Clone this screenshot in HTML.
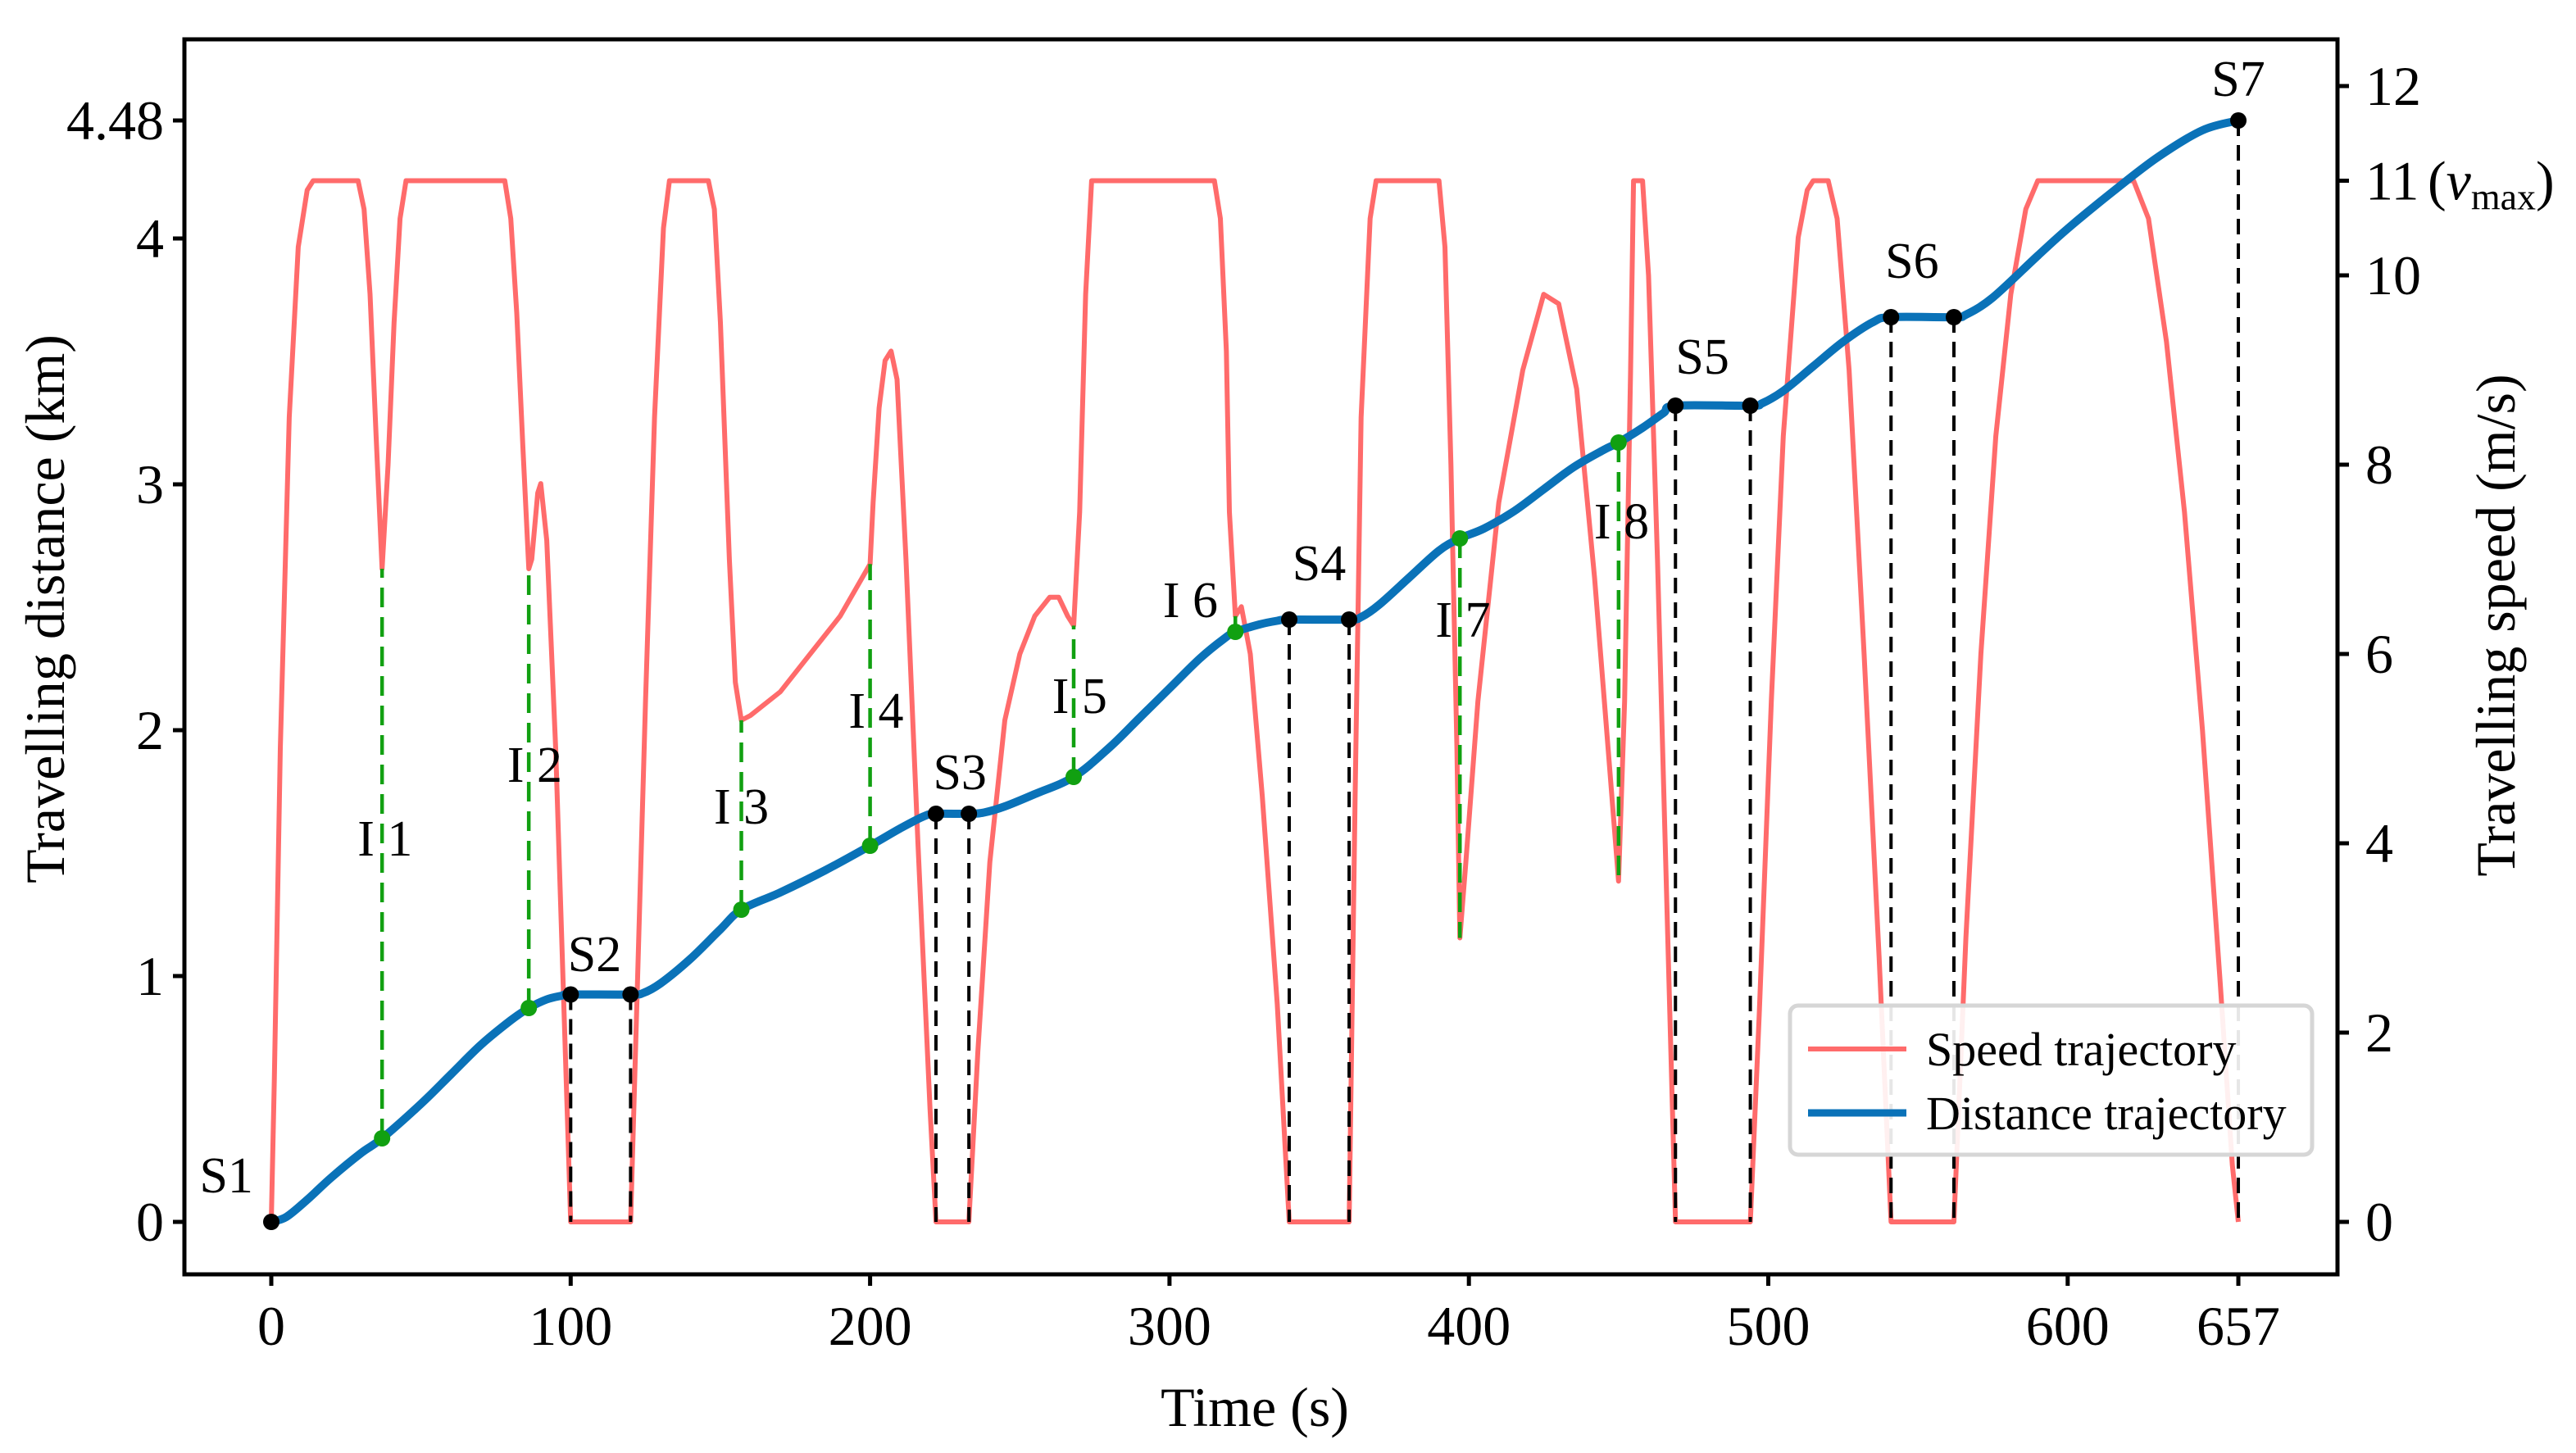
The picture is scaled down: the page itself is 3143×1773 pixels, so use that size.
<!DOCTYPE html>
<html><head><meta charset="utf-8">
<style>
html,body{margin:0;padding:0;background:#fff;}
svg{display:block;}
text{font-family:"Liberation Serif","Times New Roman",serif;fill:#000;}
</style></head>
<body>
<svg id="chart" width="3143" height="1773" viewBox="0 0 3143 1773" xmlns="http://www.w3.org/2000/svg">
<rect x="0" y="0" width="3143" height="1773" fill="#fff"/>
<g id="marks"></g>
<g id="axes"></g>
</svg>
<script>
// ---- data ----
const speedT = [0,1,3,6,9,12,14,29,31,33,35,37,39,41,43,45,78,80,82,84,86,87,89,90,92,95,98,100,120,122,125,128,131,133,146,148,150,153,155,157,160,170,180,190,200,201,203,205,207,209,212,216,220,222,233,236,240,245,250,255,260,263,266,268,270,272,274,315,317,319,320,322,324,327,331,336,340,360,362,364,367,369,390,392,394,396,397,399,403,410,418,425,430,436,442,447,450,452,454,455,458,460,463,466,469,494,497,501,505,510,513,515,520,523,527,532,537,541,562,566,571,576,581,586,590,622,627,633,639,645,651,655,657];
const speedV = [0,1.5,5,8.5,10.3,10.9,11,11,10.7,9.8,8.3,6.9,8.0,9.5,10.6,11,11,10.6,9.6,8.2,6.9,7.0,7.7,7.8,7.2,5.0,2.0,0,0,2.2,5.5,8.5,10.5,11,11,10.7,9.5,7.0,5.7,5.3,5.35,5.6,6.0,6.4,6.95,7.6,8.6,9.1,9.2,8.9,7.0,4.0,1.2,0,0,1.8,3.8,5.3,6.0,6.4,6.6,6.6,6.4,6.3,7.5,9.8,11,11,10.6,9.2,7.5,6.4,6.5,6.0,4.5,2.3,0,0,4.5,8.5,10.6,11,11,10.3,8.0,5.0,3.0,3.8,5.5,7.6,9.0,9.8,9.7,8.8,6.8,4.8,3.6,5.5,9.0,11,11,10.0,7.0,3.5,0,0,2.2,5.5,8.3,10.4,10.9,11,11,10.6,9.0,6.0,2.8,0,0,3.0,6.0,8.3,9.8,10.7,11,11,10.6,9.3,7.5,5.2,2.5,0.6,0];
const distT = [0,5,12,20,30,37,50,60,70,80,86,92,97,100,120,124,130,140,150,157,170,185,200,210,218,222,233,238,245,255,268,280,290,300,310,318,322,330,336,340,360,364,370,380,390,397,405,415,425,435,445,450,458,465,469,494,498,505,515,525,535,541,562,566,575,590,600,615,630,645,657];
const distD = [0,0.02,0.09,0.18,0.28,0.34,0.48,0.6,0.72,0.82,0.87,0.905,0.92,0.925,0.925,0.93,0.97,1.07,1.19,1.27,1.34,1.43,1.53,1.6,1.65,1.66,1.66,1.665,1.69,1.74,1.81,1.93,2.05,2.17,2.29,2.37,2.40,2.43,2.445,2.45,2.45,2.46,2.51,2.62,2.73,2.78,2.82,2.89,2.98,3.07,3.14,3.17,3.23,3.29,3.32,3.32,3.33,3.38,3.48,3.58,3.66,3.68,3.68,3.69,3.76,3.93,4.04,4.19,4.33,4.44,4.48];
const stopT = [0,100,120,222,233,340,360,469,494,541,562,657];
const stopD = [0,0.925,0.925,1.66,1.66,2.45,2.45,3.32,3.32,3.68,3.68,4.48];
const interT = [37,86,157,200,268,322,397,450];
const interD = [0.34,0.87,1.27,1.53,1.81,2.40,2.78,3.17];
const interV = [6.9,6.9,5.3,6.95,6.3,6.4,3.0,3.6];
const stopLabels = ["S1","S2","S3","S4","S5","S6","S7"];
const stopLabelT = [-15,108,230,350,478,548,657];
const stopLabelD = [0.12,1.02,1.76,2.61,3.45,3.84,4.58];
const interLabels = ["I 1","I 2","I 3","I 4","I 5","I 6","I 7","I 8"];
const interLabelT = [38,88,157,202,270,307,398,451];
const interLabelD = [1.49,1.79,1.62,2.01,2.07,2.46,2.38,2.78];
const xTicks = [0,100,200,300,400,500,600,657];
const yTicks = [0,1,2,3,4,4.48];
const yTickLabels = ["0","1","2","3","4","4.48"];
const y2Ticks = [0,2,4,6,8,10,11,12];
const y2TickLabels = ["0","2","4","6","8","10","11","12"];

// ---- scales ----
const L=225,R=2852,T=48,B=1555;
const X = t => 331 + t*3.653;
const Y = d => 1491 - d*300;
const Y2 = v => 1491 - v*115.5;
const NS="http://www.w3.org/2000/svg";
const marks=document.getElementById('marks'), axes=document.getElementById('axes');
function mk(tag,attrs,parent){const e=document.createElementNS(NS,tag);for(const k in attrs)e.setAttribute(k,attrs[k]);parent.appendChild(e);return e;}

let sp=speedT.map((t,i)=>X(t).toFixed(1)+','+Y2(speedV[i]).toFixed(1)).join(' ');
const spl=mk('polyline',{points:sp,fill:'none',stroke:'#ff6b6b','stroke-width':6,'stroke-linejoin':'round'},marks);



stopT.forEach((t,i)=>{
  const l=mk('line',{x1:X(t),x2:X(t),y1:Y(stopD[i]),y2:Y2(0),stroke:'#000','stroke-width':4,'stroke-dasharray':'19,11'},marks);
  
  
});
interT.forEach((t,i)=>{
  const l=mk('line',{x1:X(t),x2:X(t),y1:Y(interD[i]),y2:Y2(interV[i]),stroke:'#11a011','stroke-width':4.5,'stroke-dasharray':'24,12'},marks);
  
  
});

function catmull(pts){let d='M'+pts[0][0]+','+pts[0][1];for(let i=0;i<pts.length-1;i++){const p0=pts[i-1]||pts[i],p1=pts[i],p2=pts[i+1],p3=pts[i+2]||p2;const c1=[p1[0]+(p2[0]-p0[0])/6,p1[1]+(p2[1]-p0[1])/6],c2=[p2[0]-(p3[0]-p1[0])/6,p2[1]-(p3[1]-p1[1])/6];d+=' C'+c1[0].toFixed(1)+','+c1[1].toFixed(1)+' '+c2[0].toFixed(1)+','+c2[1].toFixed(1)+' '+p2[0].toFixed(1)+','+p2[1].toFixed(1);}return d;}
const dl=mk('path',{d:catmull(distT.map((t,i)=>[X(t),Y(distD[i])])),fill:'none',stroke:'#0a72b8','stroke-width':10,'stroke-linecap':'round'},marks);



stopT.forEach((t,i)=>{
  const c=mk('circle',{cx:X(t),cy:Y(stopD[i]),r:10,fill:'#000'},marks);
  
  
});
interT.forEach((t,i)=>{
  const c=mk('circle',{cx:X(t),cy:Y(interD[i]),r:10,fill:'#11a011'},marks);
  
  
});
stopLabels.forEach((s,i)=>{
  const tx=mk('text',{x:X(stopLabelT[i]),y:Y(stopLabelD[i]),'font-size':62,'text-anchor':'middle'},marks);
  tx.textContent=s;
  
  
});
interLabels.forEach((s,i)=>{
  const tx=mk('text',{x:X(interLabelT[i]),y:Y(interLabelD[i]),'font-size':62,'text-anchor':'middle'},marks);
  tx.textContent=s;
  
  
});

const fr=mk('rect',{x:L,y:T,width:R-L,height:B-T,fill:'none',stroke:'#000','stroke-width':5},axes);


xTicks.forEach(t=>{
  const l=mk('line',{x1:X(t),x2:X(t),y1:B,y2:B+14,stroke:'#000','stroke-width':5},axes);
  
  
  const tx=mk('text',{x:X(t),y:1641,'font-size':68,'text-anchor':'middle'},axes);
  tx.textContent=String(t);
  
  
});
yTicks.forEach((d,i)=>{
  const l=mk('line',{x1:L-14,x2:L,y1:Y(d),y2:Y(d),stroke:'#000','stroke-width':5},axes);
  
  
  const tx=mk('text',{x:200,y:Y(d)+23,'font-size':68,'text-anchor':'end'},axes);
  tx.textContent=yTickLabels[i];
  
  
});
y2Ticks.forEach((v,i)=>{
  const l=mk('line',{x1:R,x2:R+14,y1:Y2(v),y2:Y2(v),stroke:'#000','stroke-width':5},axes);
  
  
  const tx=mk('text',{x:2886,y:Y2(v)+23,'font-size':68},axes);
  tx.textContent=y2TickLabels[i];
  
  
  if(v===11){
    const s=mk('text',{x:2962,y:Y2(v)+23,'font-size':68},axes);
    
    
    s.innerHTML='(<tspan font-style="italic">v</tspan><tspan font-size="46" dy="12">max</tspan><tspan dy="-12">)</tspan>';
  }
});
</script>
<svg style="position:absolute;left:0;top:0" width="3143" height="1773">
<text x="1531" y="1740" font-size="68" text-anchor="middle" font-family="Liberation Serif, serif">Time (s)</text>
<text transform="translate(78,743) rotate(-90)" font-size="68" text-anchor="middle" font-family="Liberation Serif, serif">Travelling distance (km)</text>
<text transform="translate(3068,763) rotate(-90)" font-size="68" text-anchor="middle" font-family="Liberation Serif, serif">Travelling speed (m/s)</text>
<g>
<rect x="2184" y="1227" width="637" height="182" rx="10" fill="#fff" fill-opacity="0.9" stroke="#d6d6d6" stroke-width="5"/>
<line x1="2206" y1="1280" x2="2326" y2="1280" stroke="#ff6b6b" stroke-width="6"/>
<text x="2350" y="1300" font-size="58" font-family="Liberation Serif, serif">Speed trajectory</text>
<line x1="2206" y1="1358" x2="2326" y2="1358" stroke="#0a72b8" stroke-width="9"/>
<text x="2350" y="1378" font-size="58" font-family="Liberation Serif, serif">Distance trajectory</text>
</g>
</svg>
<style>body{position:relative;width:3143px;height:1773px;overflow:hidden;}</style>
</body></html>
